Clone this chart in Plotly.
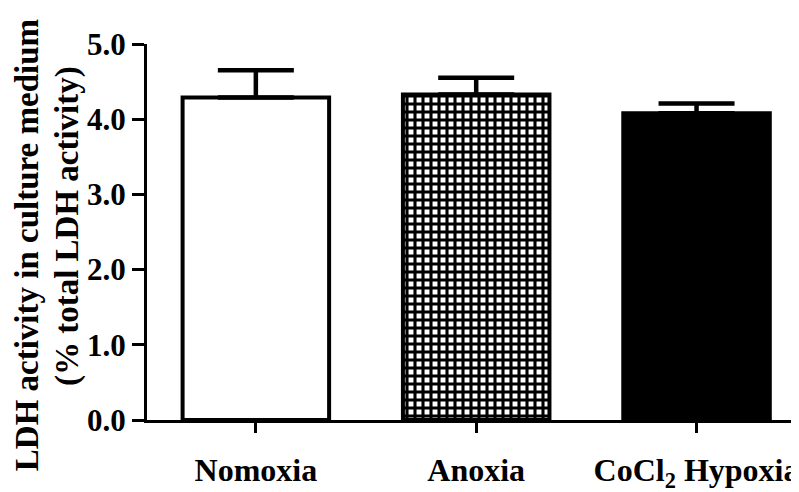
import plotly.graph_objects as go

categories = ["Nomoxia", "Anoxia", "CoCl<sub>2</sub> Hypoxia"]
means = [4.29, 4.33, 4.08]
errors_up = [0.36, 0.22, 0.13]
y_ticks = [0, 1, 2, 3, 4, 5]
y_ticklabels = ["0.0", "1.0", "2.0", "3.0", "4.0", "5.0"]
y_title_lines = ["LDH activity in culture medium", "(% total LDH activity)"]

FONT = "Liberation Serif"

fig = go.Figure()
fig.add_trace(go.Bar(
    x=[0, 1, 2],
    y=means,
    width=0.665,
    marker=dict(
        color=["white", "black", "black"],
        line=dict(color="black", width=4),
        pattern=dict(shape=["", "+", ""], fgcolor="black", bgcolor="white",
                     size=8, solidity=0.62, fillmode="replace"),
    ),
    error_y=dict(type="data", symmetric=False, array=errors_up,
                 arrayminus=[0, 0, 0], color="black", thickness=4.5, width=38),
    showlegend=False,
))

title_font = dict(family=FONT, size=33, color="black", weight="bold")
fig.add_annotation(text=y_title_lines[0], textangle=-90, xref="paper", yref="paper",
                   x=-0.184, y=0.465, xanchor="center", yanchor="middle",
                   showarrow=False, font=title_font)
fig.add_annotation(text=y_title_lines[1], textangle=-90, xref="paper", yref="paper",
                   x=-0.121, y=0.516, xanchor="center", yanchor="middle",
                   showarrow=False, font=title_font)

fig.update_layout(
    width=791, height=484,
    margin=dict(l=139, r=0, t=36, b=72, pad=0),
    paper_bgcolor="white", plot_bgcolor="white",
    font=dict(family=FONT, color="black", weight="bold"),
    xaxis=dict(
        range=[-0.494, 2.465],
        tickmode="array", tickvals=[0, 1, 2], ticktext=categories,
        showline=True, linecolor="black", linewidth=3,
        ticks="outside", ticklen=10, tickwidth=3, tickcolor="black",
        showgrid=False, zeroline=False, automargin=False,
        tickfont=dict(family=FONT, size=32, color="black", weight="bold"),
        ticklabelstandoff=10, ticklabeloverflow="allow",
    ),
    yaxis=dict(
        range=[0, 5],
        tickmode="array", tickvals=y_ticks, ticktext=y_ticklabels,
        showline=True, linecolor="black", linewidth=3,
        ticks="outside", ticklen=12, tickwidth=3, tickcolor="black",
        showgrid=False, zeroline=False, automargin=False,
        tickfont=dict(family=FONT, size=31, color="black", weight="bold"),
        ticklabelstandoff=0, ticklabeloverflow="allow",
    ),
)

fig.write_html("out.html")
